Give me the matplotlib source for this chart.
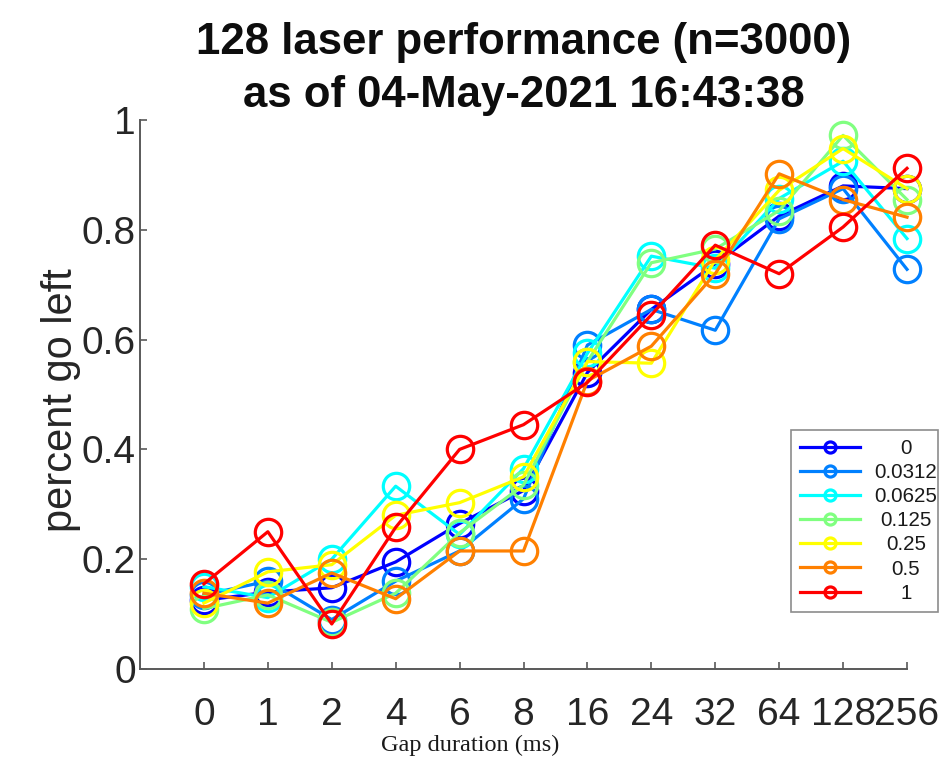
import numpy as np
import matplotlib.pyplot as plt

plt.rcParams['font.family'] = ['Liberation Sans', 'DejaVu Sans']

gap_labels = ['0', '1', '2', '4', '6', '8', '16', '24', '32', '64', '128', '256']
laser_levels = ['0', '0.0312', '0.0625', '0.125', '0.25', '0.5', '1']

pct_0 = [0.125, 0.14, 0.148, 0.195, 0.265, 0.325, 0.54, 0.655, 0.738, 0.825, 0.88, 0.875]
pct_0312 = [0.135, 0.16, 0.09, 0.16, 0.215, 0.31, 0.59, 0.655, 0.617, 0.82, 0.875, 0.728]
pct_0625 = [0.15, 0.13, 0.2, 0.333, 0.245, 0.365, 0.575, 0.752, 0.73, 0.857, 0.925, 0.784]
pct_125 = [0.11, 0.135, 0.085, 0.138, 0.248, 0.335, 0.56, 0.74, 0.765, 0.835, 0.972, 0.855]
pct_25 = [0.12, 0.177, 0.19, 0.28, 0.303, 0.35, 0.56, 0.557, 0.745, 0.872, 0.948, 0.875]
pct_5 = [0.138, 0.12, 0.175, 0.128, 0.215, 0.215, 0.525, 0.588, 0.72, 0.902, 0.855, 0.823]
pct_1 = [0.155, 0.25, 0.082, 0.258, 0.4, 0.445, 0.522, 0.645, 0.772, 0.72, 0.805, 0.912]

series = [pct_0, pct_0312, pct_0625, pct_125, pct_25, pct_5, pct_1]

# jet(7)
colors = [(0, 0, 1), (0, 0.5, 1), (0, 1, 1), (0.5, 1, 0.5),
          (1, 1, 0), (1, 0.5, 0), (1, 0, 0)]

fig = plt.figure(figsize=(9.4, 7.66), dpi=100)
ax = fig.add_axes([140 / 940, 97 / 766, 767 / 940, 549 / 766])

x = np.arange(len(gap_labels))
for vals, c, lab in zip(series, colors, laser_levels):
    ax.plot(x, vals, color=c, lw=2.3, marker='o', ms=19, mfc='none',
            mew=2.3, label=lab, clip_on=False)

ax.set_xlim(-1, 11)
ax.set_ylim(0, 1)
ax.set_xticks(x)
ax.set_xticklabels(gap_labels)
ax.set_yticks([0, 0.2, 0.4, 0.6, 0.8, 1])
ax.set_yticklabels(['0', '0.2', '0.4', '0.6', '0.8', '1'])

for side in ['top', 'right']:
    ax.spines[side].set_visible(False)
for side in ['left', 'bottom']:
    ax.spines[side].set_color('0.35')
    ax.spines[side].set_linewidth(1.4)

ax.tick_params(axis='both', direction='in', length=5, width=1.2, color='0.35',
               labelsize=28, labelcolor='0.15')
ax.tick_params(axis='x', pad=20)
ax.tick_params(axis='y', pad=3)

ax.set_ylabel('percent go left', fontsize=30, color='0.15')
ax.yaxis.set_label_coords(-0.077, 0.49)

ax.set_title('128 laser performance (n=3000)\nas of 04-May-2021 16:43:38',
             fontsize=31.5, fontweight='bold', linespacing=1.38, pad=9, color='0.05')

fig.text(0.5, 21 / 766, 'Gap duration (ms)', family=['Liberation Serif', 'DejaVu Serif'],
         fontsize=17.5, ha='center', va='center', color='0.1')

leg_fs = 14.8
leg = ax.legend(loc='lower right', bbox_to_anchor=(938 / 940, 154 / 766),
                bbox_transform=fig.transFigure, borderaxespad=0, fontsize=leg_fs,
                markerscale=0.42, handlelength=2.9, handletextpad=0.3,
                labelspacing=0.25, borderpad=0.45, fancybox=False, framealpha=1)
leg.get_frame().set_edgecolor('0.55')
leg.get_frame().set_linewidth(1.2)

# centre the legend labels in the space right of the handles
fig.canvas.draw()
frame = leg.get_frame().get_window_extent()
texts = leg.get_texts()
cx = frame.x1 - 32
inv = fig.transFigure.inverted()
for t in texts:
    b = t.get_window_extent()
    fx, fy = inv.transform((cx, (b.y0 + b.y1) / 2))
    fig.text(fx, fy, t.get_text(), fontsize=leg_fs, ha='center', va='center',
             color='0.1', zorder=10)
    t.set_visible(False)

fig.savefig('out.png', dpi=100)
